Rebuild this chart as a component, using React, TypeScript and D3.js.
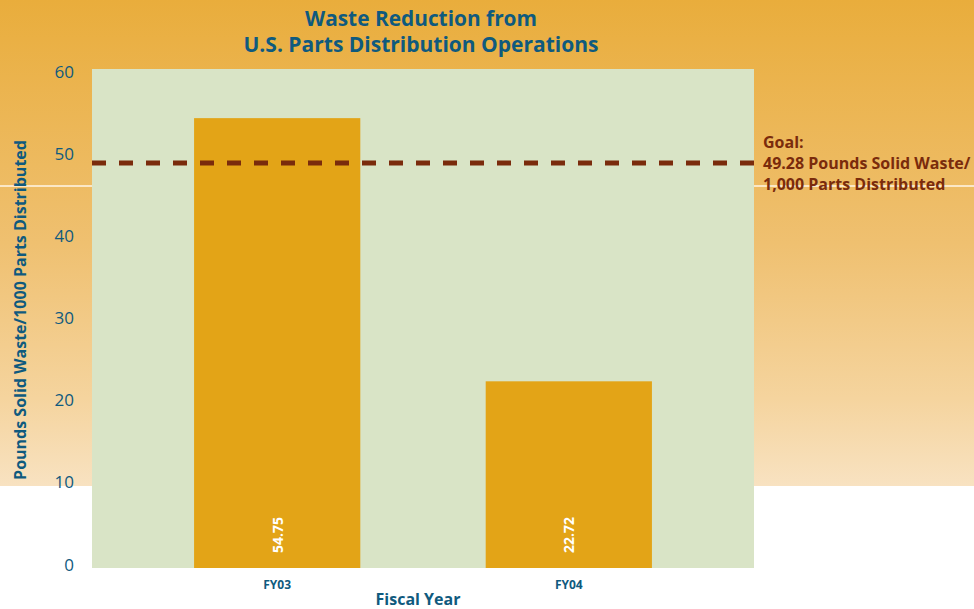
import React from "react"
import * as d3 from "d3"

const W = 974
const H = 609

const years = ["FY03", "FY04"]
const values = [54.75, 22.72]
const goal = 49.28
const yTicks = [0, 10, 20, 30, 40, 50, 60]
const goalLines = ["Goal:", "49.28 Pounds Solid Waste/", "1,000 Parts Distributed"]

const BLUE = "#0f5a7e"
const BROWN = "#7a2b0c"
const BAR = "#e3a417"
const PLOT_BG = "#d9e4c6"

const PLOT = { left: 92, right: 754, top: 69, bottom: 568 }
const FONT = "'Open Sans', 'DejaVu Sans', sans-serif"

export default function App() {
  const x = d3
    .scaleBand()
    .domain(years)
    .range([PLOT.left, PLOT.right])
    .paddingInner(0.43)
    .paddingOuter(0.35)

  const y = d3.scaleLinear().domain([0, 60]).range([PLOT.bottom, 75])

  return (
    <svg
      width={W}
      height={H}
      style={{ position: "absolute", left: 0, top: 0, display: "block" }}
      fontFamily={FONT}
    >
      <defs>
        <linearGradient id="bg" x1="0" y1="0" x2="0" y2="1">
          <stop offset="0" stopColor="#e9ad3c" />
          <stop offset="0.5" stopColor="#efc070" />
          <stop offset="0.82" stopColor="#f5d49e" />
          <stop offset="1" stopColor="#f8e2c1" />
        </linearGradient>
      </defs>
      <rect x={0} y={0} width={W} height={H} fill="#fff" />
      <rect x={0} y={0} width={W} height={486} fill="url(#bg)" />
      <line x1={0} x2={W} y1={186} y2={186} stroke="#fbe7c6" strokeWidth={2} />

      {/* title */}
      <g fill={BLUE} fontWeight="bold" fontSize={21} textAnchor="middle">
        <text x={421} y={26} textLength={232} lengthAdjust="spacingAndGlyphs">
          Waste Reduction from
        </text>
        <text x={421} y={52} textLength={355} lengthAdjust="spacingAndGlyphs">
          U.S. Parts Distribution Operations
        </text>
      </g>

      {/* plot area */}
      <rect
        x={PLOT.left}
        y={PLOT.top}
        width={PLOT.right - PLOT.left}
        height={PLOT.bottom - PLOT.top}
        fill={PLOT_BG}
      />

      {years.map((yr, i) => (
        <g key={yr}>
          <rect
            x={x(yr)}
            y={y(values[i])}
            width={x.bandwidth()}
            height={y(0) - y(values[i])}
            fill={BAR}
          />
          <text
            transform={`translate(${x(yr)! + x.bandwidth() / 2},535) rotate(-90)`}
            textAnchor="middle"
            dominantBaseline="central"
            fill="#fff"
            fontWeight="bold"
            fontSize={14}
          >
            {values[i].toFixed(2)}
          </text>
          <text
            x={x(yr)! + x.bandwidth() / 2}
            y={589}
            textAnchor="middle"
            fill={BLUE}
            fontWeight="bold"
            fontSize={12}
          >
            {yr}
          </text>
        </g>
      ))}

      {/* goal line */}
      <line
        x1={PLOT.left}
        x2={PLOT.right}
        y1={y(goal)}
        y2={y(goal)}
        stroke={BROWN}
        strokeWidth={5}
        strokeDasharray="14 13"
      />
      <g fill={BROWN} fontWeight="bold" fontSize={16}>
        {goalLines.map((t, i) => (
          <text key={t} x={763} y={148 + i * 21}>
            {t}
          </text>
        ))}
      </g>

      {/* y axis */}
      <g fill={BLUE} fontSize={17} textAnchor="end">
        {yTicks.map(t => (
          <text key={t} x={74} y={y(t) - 4} dominantBaseline="central">
            {t}
          </text>
        ))}
      </g>
      <text
        transform={`translate(20,310) rotate(-90)`}
        textAnchor="middle"
        dominantBaseline="central"
        fill={BLUE}
        fontWeight="bold"
        fontSize={16}
      >
        Pounds Solid Waste/1000 Parts Distributed
      </text>
      <text
        x={418}
        y={605}
        textAnchor="middle"
        fill={BLUE}
        fontWeight="bold"
        fontSize={16}
      >
        Fiscal Year
      </text>
    </svg>
  )
}
